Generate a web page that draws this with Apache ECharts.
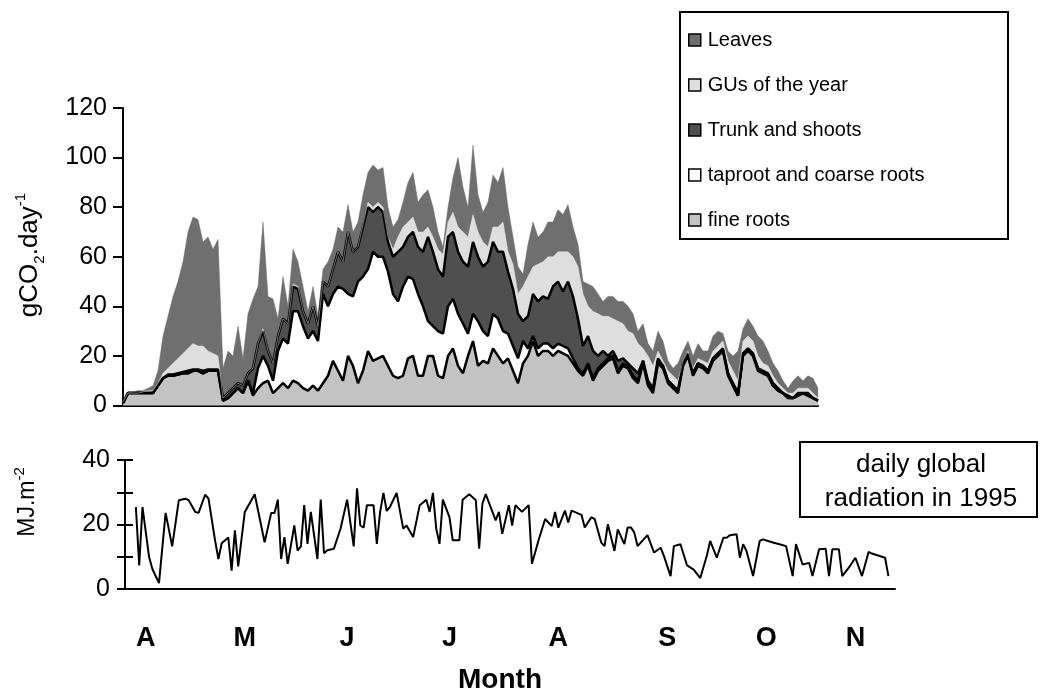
<!DOCTYPE html>
<html>
<head>
<meta charset="utf-8">
<script src="https://cdn.jsdelivr.net/npm/echarts@6/dist/echarts.min.js"></script>
<style>
  html, body { margin: 0; padding: 0; background: #fff; }
  #chart { width: 1040px; height: 691px; }
</style>
</head>
<body>
<div id="chart"></div>
<script>
// upper panel: cumulative levels (gCO2.day-1), one sample every ~1.6 days, Apr -> Nov
var fineRootsTop = [1,5,5,5,5,5,5,8,11,12,12,12.5,13,13,14,14,13,14,14,14,
  2,3,5,7,5,10,4,7,9,10,5,7,9,7,10,9,7,6,8,6,
  9,12,18,14,10,20,16,9,14,22,18,19,20,16,12,11,12,19,20,12,
  12,20,20,12,11,20,23,16,13,20,26,16,18,17,23,20,17,19,14,9,
  17,20,26,20,22,22,20,22,21,20,17,14,12,16,10,14,16,18,19,13,
  16,15,11,9,17,8,5,17,15,9,7,5,16,20,12,16,15,13,18,20,
  22,12,8,4,20,22,20,14,13,12,8,6,5,3,3,4,5,4,3,2];
var taprootTop = [1,5,5,5,5,5,5,8,11,12,12,12.5,13,13,14,14,13,14,14,14,
  2,3,5,7,5,10,5,15,20,16,10,22,27,25,38,38,32,27,30,26,
  45,40,45,48,47,45,44,50,52,55,62,60,60,54,45,42,48,52,51,45,
  40,34,32,30,29,40,43,37,33,29,37,34,30,28,37,35,30,29,24,19,
  26,23,28,23,25,25,23,25,24,23,19,15,13,17,11,15,17,19,20,14,
  17,16,12,10,18,9,6,18,16,10,8,6,17,20,13,17,16,14,19,21,
  22,13,8,4,21,22,20,15,13,12,8,6,5,3,3,4,5,4,3,2];
var trunkTop = [1,5,5,5,5,5,5,8,11,12.5,12.5,13,13.5,14,14.5,14.5,14,14.5,14.5,14.5,
  3,5,7,9,8,13,15,25,30,22,17,28,35,33,48,47,38,33,40,32,
  50,48,55,62,58,70,62,64,72,80,78,80,78,66,60,62,64,68,70,64,
  62,68,62,55,52,68,70,62,58,56,66,60,56,58,66,62,62,54,47,37,
  34,36,45,42,44,43,48,50,46,50,44,35,24,28,22,20,22,20,22,18,
  19,17,15,13,18,10,7,19,16,10,8,6,17,21,13,17,16,14,19,21,
  23,13,9,5,21,23,21,15,14,13,9,7,5,4,3,5,5,5,3,2];
var gusTop = [1.5,5,5,5,5.5,6,6,9,13,15,17,19,21,23,25,24,24,22,21,20,
  3,5,7,9,8,13,15,25,31,22,17,28,35,33,49,48,38,33,40,32,
  50,48,55,62,58,70,62,64,73,82,80,82,80,68,63,68,72,74,76,70,
  70,72,68,63,61,74,78,72,70,68,77,70,66,64,72,72,74,62,57,45,
  48,52,56,57,58,60,60,62,62,62,60,56,45,40,38,37,36,36,35,34,
  33,30,29,25,23,20,16,22,18,14,12,10,18,22,15,19,18,17,22,24,
  26,18,14,10,26,28,26,20,17,16,12,9,7,5,5,7,7,7,5,3];
var leavesTop = [2,5,5.5,6,6,7,8,14,28,36,44,50,58,70,76,75,66,68,63,67,
  15,22,20,32,19,37,43,48,74,44,43,35,52,40,63,58,48,38,48,36,
  55,58,63,72,70,81,70,74,85,94,97,95,96,80,72,75,82,90,94,82,
  85,87,80,70,64,80,92,100,88,80,105,85,78,82,93,90,96,80,68,56,
  53,65,74,68,70,74,74,79,77,81,72,65,50,49,48,45,42,44,44,42,
  42,40,37,30,33,25,22,30,26,18,15,17,22,26,20,25,22,22,28,30,
  29,22,20,22,31,35,32,28,26,22,17,14,10,7,10,12,10,12,11,7];

// lower panel: daily global radiation 1995 (MJ.m-2), day 0 = 1 April
var radDays = [0,1,2,4,5,7,9,11,13,15,16,18,19,21,22,24,25,26,28,29,
  30,31,33,36,39,41,42,43,44,45,46,48,49,50,51,52,53,55,56,57,
  58,60,62,64,66,67,68,69,70,72,73,74,75,76,77,79,81,82,84,86,
  88,89,90,91,92,93,95,96,98,99,101,103,104,105,106,109,110,111,113,114,
  115,117,119,120,122,124,126,127,128,130,131,132,135,136,138,139,141,142,143,145,
  146,148,149,150,151,152,155,157,159,160,162,163,165,167,169,171,173,174,176,178,
  179,180,182,183,184,185,187,189,190,193,195,197,199,200,202,204,205,207,209,210,
  211,213,214,216,218,220,222,223,227,228];
var radValues = [25.4,7.3,25.4,9.9,6.2,1.8,23.6,13.2,27.5,28,27.5,23.9,23.6,29.3,28,15,9.3,14.2,16,5.7,
  18.2,7,23.9,29.4,14.5,23.6,23.6,27.7,9.3,16.1,7.8,19.7,11.9,13.2,26,14,23.9,9.3,27.7,11.1,
  12,12.5,18.7,27.7,13.2,31.2,19.7,19,26,26,14,23.9,29.8,24.2,25.5,29.8,18.7,19.7,16.1,26,
  27.7,23.9,29.8,18.7,14,27.7,22.3,15.1,15.1,27.7,29.4,27.5,12.5,26.5,29.4,21.3,23.9,17.1,26,19.7,
  26,23.9,26,7.8,15.1,21.7,19.5,23.9,19,24.3,20.6,24.3,23,19.1,22.2,21.7,14.4,13.3,20.1,11.8,
  18.5,13.9,19.1,19.1,17.5,13.3,16.7,11.3,12.8,10.2,4,13.3,13.9,7.3,6,3.4,10.4,14.9,9.7,15.9,
  15.9,16.7,17,9.7,13.9,11.8,4,14.9,15.4,14.4,13.9,13.3,4,13.9,7.6,8.1,4,12.3,12.5,4,
  12.3,12.3,4,6.6,9.7,4,11.5,11,9.7,4];

var monthTicks = [3, 33, 64, 95, 128, 161, 191, 218];
var monthNames = ['A', 'M', 'J', 'J', 'A', 'S', 'O', 'N'];

var FONT = '"Liberation Sans", Arial, Helvetica, sans-serif';
var BOLD_FONT = '"Liberation Sans Narrow", "Liberation Sans", Arial, sans-serif';

// component = this level minus the one below it
function part(upper, lower) {
  return upper.map(function (v, i) { return Math.max(0, v - lower[i]); });
}

var samples = fineRootsTop.map(function (v, i) { return i; });

function areaSeries(name, data, fill, outlined) {
  return {
    name: name,
    type: 'line',
    stack: 'co2',
    xAxisIndex: 0,
    yAxisIndex: 0,
    data: data,
    symbol: 'none',
    showSymbol: false,
    color: fill,
    itemStyle: { color: fill },
    lineStyle: outlined ? { color: '#000', width: 2.5 } : { color: fill, width: 0.5 },
    areaStyle: { color: fill, opacity: 1 },
    emphasis: { disabled: true }
  };
}

var chart = echarts.init(document.getElementById('chart'), null, { renderer: 'canvas' });

var lowerGrid = { left: 125, right: 145, top: 460, bottom: 102 };

var option = {
  animation: false,
  backgroundColor: '#fff',
  grid: [
    { left: 123, right: 222, top: 108, bottom: 285.5 },
    lowerGrid,
    // same box again, only to carry the inner half of the crossing ticks
    { left: lowerGrid.left, right: lowerGrid.right, top: lowerGrid.top, bottom: lowerGrid.bottom }
  ],
  legend: {
    orient: 'vertical',
    left: 683,
    top: 25,
    itemGap: 25,
    itemWidth: 12,
    itemHeight: 12,
    icon: 'rect',
    selectedMode: false,
    itemStyle: { borderColor: '#000', borderWidth: 1.5 },
    textStyle: { fontSize: 20, fontFamily: FONT, color: '#000', padding: [0, 0, 0, 2] },
    data: ['Leaves', 'GUs of the year', 'Trunk and shoots', 'taproot and coarse roots', 'fine roots']
  },
  xAxis: [
    {
      gridIndex: 0,
      type: 'category',
      data: samples,
      boundaryGap: false,
      axisLine: { lineStyle: { color: '#000', width: 2 } },
      axisTick: { show: false },
      axisLabel: { show: false },
      splitLine: { show: false }
    },
    {
      gridIndex: 1,
      type: 'value',
      min: -3.3,
      max: 230,
      axisLine: { onZero: false, lineStyle: { color: '#000', width: 2 } },
      axisTick: { show: false },
      splitLine: { show: false },
      axisLabel: {
        customValues: monthTicks,
        formatter: function (v) {
          var k = monthTicks.indexOf(v);
          return k < 0 ? '' : monthNames[k];
        },
        fontSize: 27,
        fontWeight: 'bold',
        fontFamily: BOLD_FONT,
        color: '#000',
        margin: 36
      }
    },
    {
      gridIndex: 2,
      type: 'value',
      min: -3.3,
      max: 230,
      show: false
    }
  ],
  yAxis: [
    {
      gridIndex: 0,
      type: 'value',
      min: 0,
      max: 120,
      interval: 20,
      axisLine: { show: true, lineStyle: { color: '#000', width: 2 } },
      axisTick: { show: true, length: 10, lineStyle: { color: '#000', width: 2 } },
      axisLabel: { fontSize: 25, fontFamily: FONT, color: '#000', margin: 16 },
      splitLine: { show: false }
    },
    {
      gridIndex: 1,
      type: 'value',
      min: 0,
      max: 40,
      interval: 10,
      axisLine: { show: true, onZero: false, lineStyle: { color: '#000', width: 2 } },
      axisTick: { show: true, length: 8, lineStyle: { color: '#000', width: 2 } },
      axisLabel: {
        fontSize: 25, fontFamily: FONT, color: '#000', margin: 15,
        formatter: function (v) { return v % 20 === 0 ? String(v) : ''; }
      },
      splitLine: { show: false }
    },
    {
      gridIndex: 2,
      type: 'value',
      min: 0,
      max: 40,
      interval: 10,
      axisLine: { show: false, onZero: false },
      axisTick: { show: true, inside: true, length: 8, lineStyle: { color: '#000', width: 2 } },
      axisLabel: { show: false },
      splitLine: { show: false }
    }
  ],
  series: [
    areaSeries('fine roots', fineRootsTop, '#c3c3c3', true),
    areaSeries('taproot and coarse roots', part(taprootTop, fineRootsTop), '#ffffff', true),
    areaSeries('Trunk and shoots', part(trunkTop, taprootTop), '#4f4f4f', true),
    areaSeries('GUs of the year', part(gusTop, trunkTop), '#dedede', false),
    areaSeries('Leaves', part(leavesTop, gusTop), '#6f6f6f', false),
    {
      name: 'radiation',
      type: 'line',
      xAxisIndex: 1,
      yAxisIndex: 1,
      data: radDays.map(function (d, i) { return [d, radValues[i]]; }),
      symbol: 'none',
      showSymbol: false,
      lineStyle: { color: '#000', width: 2 },
      itemStyle: { color: '#000' },
      emphasis: { disabled: true }
    }
  ],
  graphic: [
    {
      type: 'text',
      x: 30, y: 255,
      rotation: Math.PI / 2,
      style: {
        text: '{a|gCO}{b|2}{a|.day}{c|-1}',
        align: 'center',
        verticalAlign: 'middle',
        rich: {
          a: { fontSize: 26, fontFamily: FONT, fill: '#000', lineHeight: 34, verticalAlign: 'middle' },
          b: { fontSize: 15, fontFamily: FONT, fill: '#000', verticalAlign: 'bottom' },
          c: { fontSize: 15, fontFamily: FONT, fill: '#000', verticalAlign: 'top' }
        }
      }
    },
    {
      type: 'text',
      x: 28, y: 502,
      rotation: Math.PI / 2,
      style: {
        text: '{a|MJ.m}{c|-2}',
        align: 'center',
        verticalAlign: 'middle',
        rich: {
          a: { fontSize: 23, fontFamily: FONT, fill: '#000', lineHeight: 32, verticalAlign: 'middle' },
          c: { fontSize: 15, fontFamily: FONT, fill: '#000', verticalAlign: 'top' }
        }
      }
    },
    {
      type: 'rect',
      shape: { x: 680, y: 12, width: 328, height: 227 },
      style: { fill: 'none', stroke: '#000', lineWidth: 2 },
      z: 100
    },
    {
      type: 'rect',
      shape: { x: 800, y: 442, width: 237, height: 75 },
      style: { fill: '#fff', stroke: '#000', lineWidth: 2 },
      z: 100
    },
    {
      type: 'text',
      x: 921, y: 482,
      style: {
        text: 'daily global\nradiation in 1995',
        align: 'center',
        verticalAlign: 'middle',
        fontSize: 26,
        lineHeight: 34,
        fontFamily: FONT,
        fill: '#000'
      },
      z: 101
    },
    {
      type: 'text',
      x: 500, y: 680,
      style: {
        text: 'Month',
        align: 'center',
        verticalAlign: 'middle',
        fontSize: 28,
        fontWeight: 'bold',
        fontFamily: BOLD_FONT,
        fill: '#000'
      }
    }
  ]
};

chart.setOption(option);
</script>
</body>
</html>
